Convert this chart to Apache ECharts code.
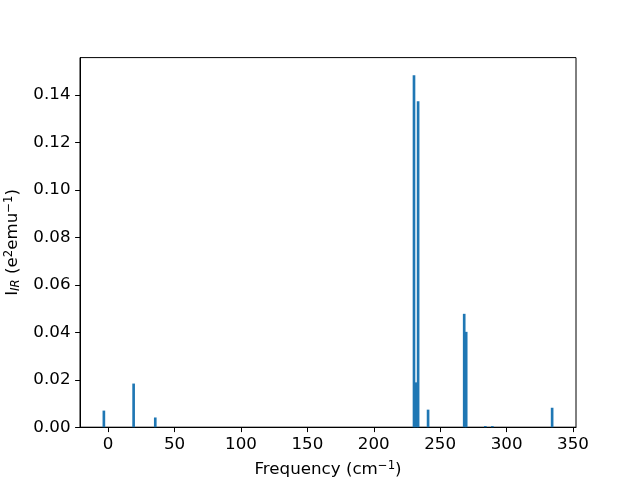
<!DOCTYPE html>
<html>
<head>
<meta charset="utf-8">
<script src="https://cdn.jsdelivr.net/npm/echarts@6/dist/echarts.min.js"></script>
<style>html,body{margin:0;padding:0;background:#fff}#c{width:640px;height:480px}</style>
</head>
<body>
<div id="c"></div>
<script>
const frequencies = [-3.2, 19.2, 35.5, 231.8, 230.3, 233.4, 240.9, 268.1, 269.6, 284.0, 289.3, 334.3];
const intensities = [0.0070, 0.0184, 0.0041, 0.0189, 0.1484, 0.1374, 0.0074, 0.0478, 0.0402, 0.0005, 0.0005, 0.0082];
const xTicks = [0, 50, 100, 150, 200, 250, 300, 350];
const yTicks = [0, 0.02, 0.04, 0.06, 0.08, 0.10, 0.12, 0.14];
const barWidth = 2;

const lo = Math.min(...frequencies) - barWidth / 2;
const hi = Math.max(...frequencies) + barWidth / 2;
const xMin = lo - 0.05 * (hi - lo), xMax = hi + 0.05 * (hi - lo);
const yMax = Math.max(...intensities) * 1.05;

const font = 'DejaVu Sans';
const fs = 16.7;
const sup = {fontFamily: font, fontSize: 11.7, color: '#000', padding: [0, 0, 7, 0]};
const sub = {fontFamily: font, fontSize: 11.7, fontStyle: 'italic', color: '#000', padding: [7, 0, 0, 0]};
const main = {fontFamily: font, fontSize: fs, color: '#000'};

const chart = echarts.init(document.getElementById('c'), null, {renderer: 'canvas'});
chart.setOption({
  animation: false,
  backgroundColor: '#fff',
  grid: {left: 80, right: 64, top: 57.6, bottom: 52.8, containLabel: false, outerBoundsMode: 'none',
    show: true, borderColor: '#000', borderWidth: 1, backgroundColor: 'transparent'},
  xAxis: {
    type: 'value', min: xMin, max: xMax,
    name: '{m|Frequency (cm}{p|\u22121}{m|)}', nameLocation: 'middle', nameGap: 33,
    nameTextStyle: {fontFamily: font, fontSize: fs, color: '#000', rich: {m: main, p: sup}},
    axisLine: {show: true, onZero: false, lineStyle: {color: '#000', width: 1}},
    axisTick: {show: true, inside: false, length: 4.9, lineStyle: {color: '#000'}, customValues: xTicks},
    axisLabel: {fontFamily: font, fontSize: fs, color: '#000', margin: 9, customValues: xTicks, formatter: v => String(v)},
    splitLine: {show: false}
  },
  yAxis: {
    type: 'value', min: 0, max: yMax,
    name: '{m|I}{s|IR}{m| (e}{p|2}{m|emu}{p|\u22121}{m|)}', nameLocation: 'middle', nameGap: 53, nameRotate: 90,
    nameTextStyle: {fontFamily: font, fontSize: fs, color: '#000', rich: {m: main, s: sub, p: sup}},
    axisLine: {show: true, onZero: false, lineStyle: {color: '#000', width: 1}},
    axisTick: {show: true, inside: false, length: 4.9, lineStyle: {color: '#000'}, customValues: yTicks},
    axisLabel: {fontFamily: font, fontSize: fs, color: '#000', margin: 9.5, customValues: yTicks, formatter: v => v.toFixed(2)},
    splitLine: {show: false}
  },
  series: [{
    type: 'custom',
    data: frequencies.map((f, i) => [f, intensities[i]]),
    encode: {x: 0, y: 1},
    renderItem: function (params, api) {
      const x = api.value(0), h = api.value(1);
      const p0 = api.coord([x - barWidth / 2, 0]);
      const p1 = api.coord([x + barWidth / 2, h]);
      return {type: 'rect', shape: {x: p0[0], y: p1[1], width: p1[0] - p0[0], height: p0[1] - p1[1]}, style: {fill: '#1f77b4'}};
    }
  }]
});
</script>
</body>
</html>
